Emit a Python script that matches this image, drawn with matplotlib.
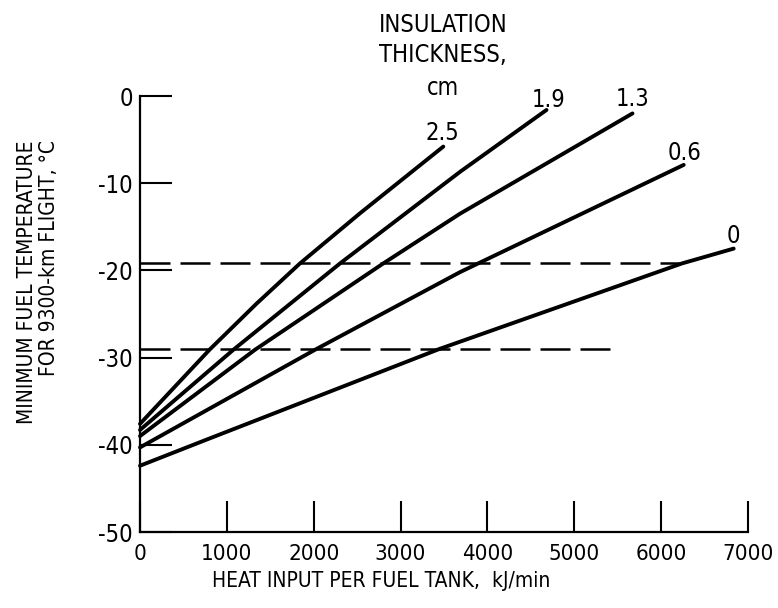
import matplotlib
matplotlib.use("Agg")
import matplotlib.pyplot as plt

# Heat input per fuel tank (kJ/min) vs minimum fuel temperature (deg C)
# for each insulation thickness (cm)
thickness_labels = ["2.5", "1.9", "1.3", "0.6", "0"]

heat_25 = [0, 800, 1343, 1842, 2533, 3492]
temp_25 = [-37.6, -29.1, -23.8, -19.2, -13.45, -5.8]

heat_19 = [0, 1075, 2303, 3684, 4680]
temp_19 = [-38.3, -29.1, -19.2, -8.7, -1.6]

heat_13 = [0, 1324, 2801, 3684, 5670]
temp_13 = [-39.0, -29.1, -19.2, -13.5, -2.0]

heat_06 = [0, 2015, 3684, 6260]
temp_06 = [-40.3, -29.1, -20.2, -7.9]

heat_00 = [0, 768, 3450, 6240, 6835]
temp_00 = [-42.4, -39.4, -29.0, -19.2, -17.5]

# Reference temperature levels (dashed)
ref_levels = [-19.2, -29.0]
ref_ends = [6240, 5410]

# Curve label anchor points (heat, temperature)
label_x = [3487, 4709, 5676, 6274, 6827]
label_y = [-5.05, -1.26, -1.15, -7.34, -16.86]

x_ticks = [0, 1000, 2000, 3000, 4000, 5000, 6000, 7000]
y_ticks = [0, -10, -20, -30, -40, -50]

plt.rcParams["font.family"] = ["DejaVu Sans"]
plt.rcParams["font.stretch"] = "condensed"
plt.rcParams["axes.unicode_minus"] = False

W, H = 778, 608
fig = plt.figure(figsize=(W / 100, H / 100), dpi=100)
ax = fig.add_axes([140 / W, 1 - 532 / H, 608 / W, 436 / H])

curves = [(heat_25, temp_25), (heat_19, temp_19), (heat_13, temp_13),
          (heat_06, temp_06), (heat_00, temp_00)]
for hx, ty in curves:
    ax.plot(hx, ty, color="black", lw=2.8, solid_capstyle="round",
            solid_joinstyle="round", clip_on=False)

for lvl, end in zip(ref_levels, ref_ends):
    ax.plot([0, end], [lvl, lvl], color="black", lw=1.8,
            dashes=(12, 4), clip_on=False)

FS = 17
for lab, lx, ly in zip(thickness_labels, label_x, label_y):
    ax.text(lx, ly, lab, ha="center", va="baseline", fontsize=FS)

ax.set_xlim(0, 7000)
ax.set_ylim(-50, 0)
ax.set_xticks(x_ticks)
ax.set_xticklabels([str(v) for v in x_ticks])
ax.set_yticks(y_ticks)
ax.set_yticklabels([str(v) for v in y_ticks])

for side in ("top", "right"):
    ax.spines[side].set_visible(False)
for side in ("left", "bottom"):
    ax.spines[side].set_linewidth(1.6)

ax.tick_params(axis="x", direction="in", length=22, width=1.5,
               pad=9, labelsize=16)
ax.tick_params(axis="y", direction="in", length=23, width=1.5,
               pad=5, labelsize=17)

# Legend header for the curve family
fig.text(443 / W, 1 - 32 / H, "INSULATION", ha="center", va="baseline", fontsize=FS)
fig.text(443 / W, 1 - 62 / H, "THICKNESS,", ha="center", va="baseline", fontsize=FS)
fig.text(443 / W, 1 - 95 / H, "cm", ha="center", va="baseline", fontsize=FS)

# Axis titles
fig.text(381 / W, 1 - 587 / H, "HEAT INPUT PER FUEL TANK,  kJ/min",
         ha="center", va="baseline", fontsize=15)
fig.text(33 / W, 1 - 140 / H, "MINIMUM FUEL TEMPERATURE", rotation=90,
         rotation_mode="anchor", ha="right", va="baseline", fontsize=15)
fig.text(55 / W, 1 - 140 / H, "FOR 9300-km FLIGHT, \u00b0C",
         rotation=90, rotation_mode="anchor", ha="right", va="baseline",
         fontsize=15)

fig.savefig("out.png", dpi=100)
